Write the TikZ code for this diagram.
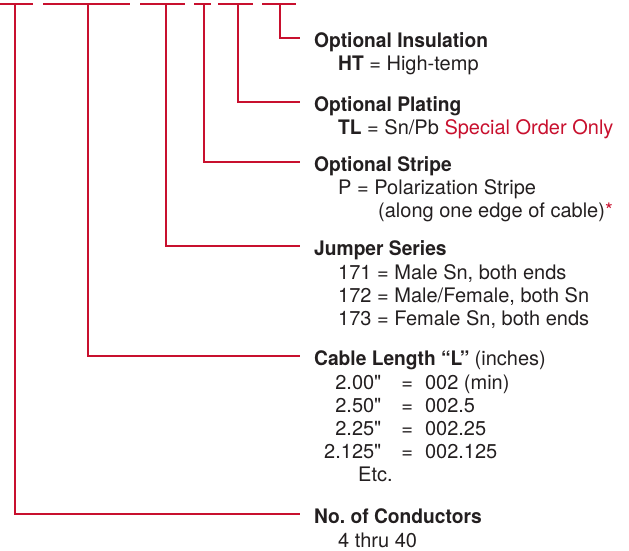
\documentclass[tikz,border=0pt]{standalone}
\usepackage{fontspec}
\setmainfont{TeX Gyre Heros}[Ligatures=TeXOff, BoldFeatures={FakeStretch=0.96}]
\usepackage{xcolor}
\usepackage{tikz}
\usetikzlibrary{calc}
\definecolor{myred}{RGB}{200,16,46}
\definecolor{mydark}{RGB}{35,31,32}
\newcommand{\partfont}{\fontsize{20}{23}\selectfont}
\newcommand{\vlist}[1]{\begin{tabular}[t]{@{}l@{}}#1\end{tabular}}
\tikzset{
  head/.style={anchor=base west, inner sep=0pt, text height=18pt, text depth=0pt,
    font=\partfont\bfseries, text=mydark},
  vals/.style={anchor=base west, inner sep=0pt, font=\partfont, text=mydark},
  bar/.style={draw=myred, line width=2.6pt},
  lead/.style={draw=myred, line width=2.6pt}
}

\begin{document}
\begin{tikzpicture}[x=1pt, y=-1pt]
  \useasboundingbox (0,0) rectangle (629,550);

  % Part number bar
  \foreach \a/\b in {0/33, 43/130, 140/185, 194/211, 218/253, 262/296}
    \draw[bar] (\a,4) -- (\b,4);
  \coordinate (tcnd) at (15,4);
  \coordinate (tlen) at (88,4);
  \coordinate (tser) at (166,4);
  \coordinate (tstr) at (204,4);
  \coordinate (tpla) at (238,4);
  \coordinate (tins) at (280,4);

  % Headings
  \node[head] (hins) at (314,47)  {Optional Insulation};
  \node[head] (hpla) at (314,111) {Optional Plating};
  \node[head] (hstr) at (314,171) {Optional Stripe};
  \node[head] (hser) at (314,255) {Jumper Series};
  \node[head] (hlen) at (314,365) {Cable Length “L” {\mdseries(inches)}};
  \node[head] (hcnd) at (314,523) {No.\ of Conductors};

  % Values
  \node[vals] (vins) at ($(hins.base west)+(24,23)$) {\vlist{\textbf{HT} = High-temp}};
  \node[vals] (vpla) at ($(hpla.base west)+(24,23)$)
    {\vlist{\textbf{TL} = Sn/Pb \textcolor{myred}{Special Order Only}}};
  \node[vals] (vstr) at ($(hstr.base west)+(24,23)$)
    {\vlist{P = Polarization Stripe\\\hspace*{40pt}(along one edge of cable)\textcolor{myred}{*}}};
  \node[vals] (vser) at ($(hser.base west)+(24,24)$)
    {\vlist{171 = Male Sn, both ends\\172 = Male/Female, both Sn\\173 = Female Sn, both ends}};
  \node[vals] (vlen) at ($(hlen.base west)+(10,24)$)
    {\begin{tabular}[t]{@{}r@{\hspace{20pt}=\hspace{12pt}}l@{}}
      2.00" & 002 (min)\\
      2.50" & 002.5\\
      2.25" & 002.25\\
      2.125" & 002.125\\
      \multicolumn{2}{@{\hspace{34pt}}l@{}}{Etc.}
    \end{tabular}};
  \node[vals] (vcnd) at ($(hcnd.base west)+(24,24)$) {\vlist{4 thru 40}};

  % Leads
  \draw[lead] (tins) |- ([xshift=-14pt]hins.west);
  \draw[lead] (tpla) |- ([xshift=-14pt]hpla.west);
  \draw[lead] (tstr) |- ([xshift=-14pt]hstr.west);
  \draw[lead] (tser) |- ([xshift=-14pt]hser.west);
  \draw[lead] (tlen) |- ([xshift=-14pt]hlen.west);
  \draw[lead] (tcnd) |- ([xshift=-14pt]hcnd.west);
\end{tikzpicture}
\end{document}
